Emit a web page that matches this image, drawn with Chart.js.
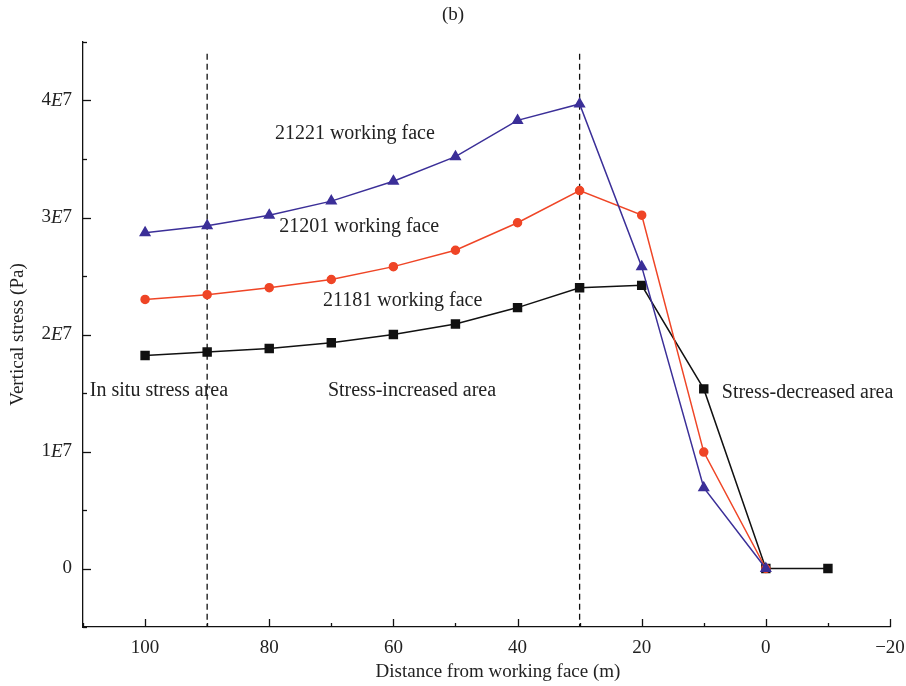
<!DOCTYPE html>
<html>
<head>
<meta charset="utf-8">
<script src="https://cdn.jsdelivr.net/npm/chart.js@4"></script>
<style>
  body { margin: 0; background: #fff; }
  #wrap { width: 906px; height: 686px; }
</style>
</head>
<body>
<div id="wrap"><canvas id="stressChart" width="906" height="686"></canvas></div>
<script>
// distance from working face (m)
var distances = [100, 90, 80, 70, 60, 50, 40, 30, 20, 10, 0, -10];

// vertical stress (Pa)
var face21221 = [2.87e7, 2.93e7, 3.02e7, 3.14e7, 3.31e7, 3.52e7, 3.83e7, 3.97e7, 2.58e7, 0.69e7, 0];
var face21201 = [2.30e7, 2.34e7, 2.40e7, 2.47e7, 2.58e7, 2.72e7, 2.955e7, 3.23e7, 3.02e7, 0.995e7, 0];
var face21181 = [1.82e7, 1.85e7, 1.88e7, 1.93e7, 2.00e7, 2.09e7, 2.23e7, 2.40e7, 2.42e7, 1.535e7, 0, 0];

var xTicks = [100, 80, 60, 40, 20, 0, -20];
var yTicks = [0, 1e7, 2e7, 3e7, 4e7];
var yTickLabels = ["0", "1E7", "2E7", "3E7", "4E7"];
var zoneLines = [90, 30];

var labels = [
  { text: "21221 working face", x: 66.2, y: 3.72e7, align: "center" },
  { text: "21201 working face", x: 65.5, y: 2.92e7, align: "center" },
  { text: "21181 working face", x: 58.5, y: 2.29e7, align: "center" },
  { text: "In situ stress area", x: 108.9, y: 1.52e7, align: "left" },
  { text: "Stress-increased area", x: 57.0, y: 1.52e7, align: "center" },
  { text: "Stress-decreased area", x: 7.1, y: 1.50e7, align: "left" }
];

var serif = '"Liberation Serif", "DejaVu Serif", serif';

function pairs(xs, ys) {
  return ys.map(function (v, i) { return { x: xs[i], y: v }; });
}

var datasets = [
  { data: pairs(distances, face21221), borderColor: "#3b2f98", backgroundColor: "#3b2f98",
    pointStyle: "triangle", pointRadius: 5.5, borderWidth: 1.5 },
  { data: pairs(distances, face21201), borderColor: "#ef4526", backgroundColor: "#ef4526",
    pointStyle: "circle", pointRadius: 4, borderWidth: 1.5 },
  { data: pairs(distances, face21181), borderColor: "#111111", backgroundColor: "#111111",
    pointStyle: "rect", pointRadius: 5.6, borderWidth: 1.5 }
];
zoneLines.forEach(function (d) {
  datasets.push({ data: [{ x: d, y: 4.4e7 }, { x: d, y: -0.5e7 }], borderColor: "#111",
    borderWidth: 1.3, borderDash: [6, 4], pointRadius: 0 });
});

// ticks, labels and titles drawn in the journal style
var decorations = {
  id: "decorations",
  afterDraw: function (chart) {
    var ctx = chart.ctx, xs = chart.scales.x, ys = chart.scales.y, area = chart.chartArea;
    ctx.save();
    ctx.strokeStyle = "#111";
    ctx.lineWidth = 1.3;
    for (var v = -20; v <= 110; v += 10) {
      var px = Math.round(xs.getPixelForValue(v)) + 0.5;
      var len = (v % 20 === 0) ? 8 : 4;
      ctx.beginPath(); ctx.moveTo(px, area.bottom); ctx.lineTo(px, area.bottom - len); ctx.stroke();
    }
    for (var w = -0.5e7; w <= 4.5e7; w += 0.5e7) {
      var py = Math.round(ys.getPixelForValue(w)) + 0.5;
      var l2 = (Math.round(w / 0.5e7) % 2 === 0) ? 8 : 4;
      ctx.beginPath(); ctx.moveTo(area.left, py); ctx.lineTo(area.left + l2, py); ctx.stroke();
    }
    ctx.fillStyle = "#222";
    ctx.font = "19px " + serif;
    ctx.textBaseline = "top";
    ctx.textAlign = "center";
    xTicks.forEach(function (t) {
      var s = t < 0 ? "\u2212" + (-t) : String(t);
      ctx.fillText(s, xs.getPixelForValue(t), area.bottom + 12);
    });
    ctx.textBaseline = "middle";
    ctx.textAlign = "left";
    yTicks.forEach(function (t, i) {
      var s = yTickLabels[i];
      var py = ys.getPixelForValue(t);
      var parts = s.indexOf("E") >= 0 ? [s.split("E")[0], "E", s.split("E")[1]] : [s];
      var fonts = parts.map(function (p, j) { return (j === 1 ? "italic " : "") + "19px " + serif; });
      var total = 0;
      parts.forEach(function (p, j) { ctx.font = fonts[j]; total += ctx.measureText(p).width; });
      var x0 = area.left - 11 - total;
      parts.forEach(function (p, j) { ctx.font = fonts[j]; ctx.fillText(p, x0, py); x0 += ctx.measureText(p).width; });
    });
    ctx.font = "20px " + serif;
    labels.forEach(function (lb) {
      ctx.textAlign = lb.align;
      ctx.fillText(lb.text, xs.getPixelForValue(lb.x), ys.getPixelForValue(lb.y));
    });
    ctx.font = "19px " + serif;
    ctx.textAlign = "center";
    ctx.fillText("(b)", 453, 15);
    ctx.fillText("Distance from working face (m)", 498, 672);
    ctx.translate(18, (area.top + area.bottom) / 2);
    ctx.rotate(-Math.PI / 2);
    ctx.fillText("Vertical stress (Pa)", 0, 0);
    ctx.restore();
  }
};

new Chart(document.getElementById("stressChart"), {
  type: "line",
  data: { datasets: datasets },
  options: {
    responsive: false,
    animation: false,
    layout: { padding: { left: 83, right: 16, top: 42, bottom: 59 } },
    plugins: { legend: { display: false }, tooltip: { enabled: false } },
    elements: { line: { tension: 0 } },
    scales: {
      x: {
        type: "linear", reverse: true, min: -20, max: 110,
        ticks: { display: false, padding: 0 },
        grid: { display: false, drawTicks: false, tickLength: 0 },
        border: { display: true, color: "#111", width: 1.3 }
      },
      y: {
        type: "linear", min: -0.5e7, max: 4.5e7,
        ticks: { display: false, padding: 0 },
        grid: { display: false, drawTicks: false, tickLength: 0 },
        border: { display: true, color: "#111", width: 1.3 }
      }
    }
  },
  plugins: [decorations]
});
</script>
</body>
</html>
